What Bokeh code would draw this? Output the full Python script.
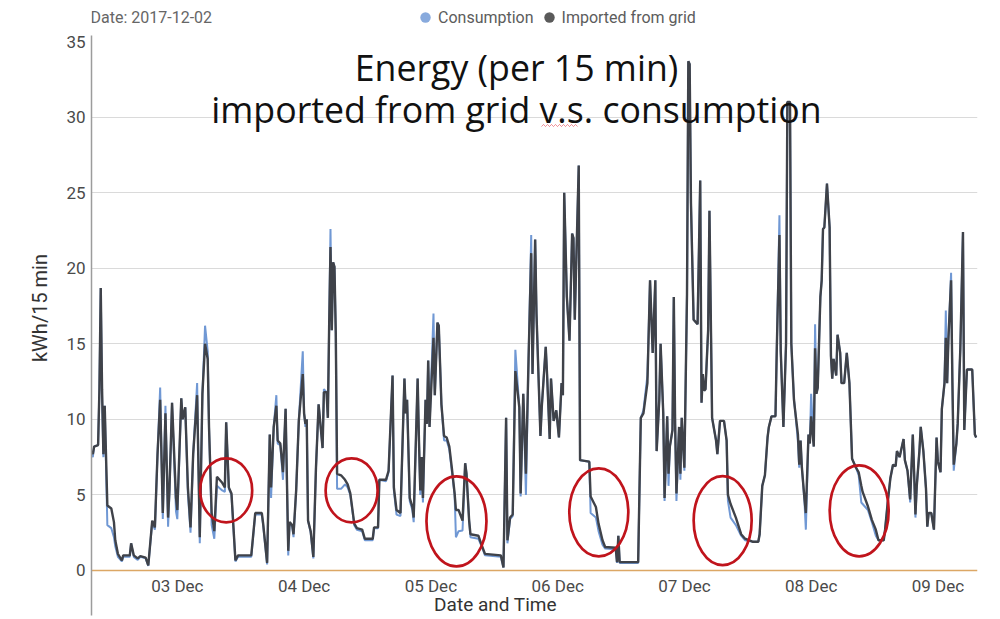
import pandas as pd
from bokeh.plotting import figure
from bokeh.models import (Range1d, FixedTicker, DatetimeAxis, DatetimeTickFormatter,
                          Label, Legend, LegendItem, Title, PolyAnnotation)
from bokeh.embed import file_html
from bokeh.resources import INLINE

# ---------------- data (hours since 2017-12-02 00:00, kWh per 15 min) ----------------
START = "2017-12-02"
hours = [7.75, 8.0, 8.25, 9.0, 9.25, 9.5, 9.75, 10.0, 10.25, 10.75, 11.5, 12.0, 12.25, 12.75,
         13.5, 13.75, 15.0, 15.25, 15.75, 16.5, 17.0, 18.0, 18.5, 19.25, 19.75, 20.25, 20.75,
         21.25, 21.75, 22.25, 22.5, 23.0, 23.75, 24.0, 24.75, 25.0, 25.5, 26.0, 26.5, 27.0,
         27.75, 28.25, 28.75, 29.25, 29.75, 30.0, 30.5, 31.0, 31.5, 32.5, 33.0, 33.25, 33.75,
         34.25, 35.0, 35.5, 38.0, 38.75, 40.0, 40.25, 41.0, 41.5, 41.75, 42.25, 42.75, 43.0,
         43.5, 44.0, 44.5, 45.0, 45.25, 45.75, 46.0, 46.5, 47.0, 47.75, 48.0, 48.25, 48.5,
         48.75, 49.25, 49.75, 50.25, 50.75, 51.5, 51.75, 52.25, 52.5, 52.75, 53.0, 53.25,
         53.5, 53.75, 54.0, 54.25, 55.0, 55.75, 56.25, 56.75, 57.5, 58.0, 59.0, 59.5, 61.0,
         61.25, 62.0, 62.25, 63.5, 64.0, 64.75, 65.0, 65.5, 66.25, 67.0, 67.25, 67.5, 68.0,
         68.5, 68.75, 69.5, 69.75, 70.0, 70.25, 70.5, 71.0, 71.25, 71.5, 71.75, 72.5, 72.75,
         73.25, 73.5, 74.0, 74.5, 75.0, 75.5, 76.0, 76.5, 76.75, 77.25, 78.0, 78.5, 78.75,
         79.25, 79.5, 81.0, 81.75, 82.25, 85.25, 85.75, 86.25, 86.5, 87.0, 87.5, 88.0, 88.75,
         89.0, 89.5, 90.0, 90.5, 91.0, 91.25, 91.75, 92.0, 92.75, 93.0, 93.75, 94.0, 94.5,
         94.75, 95.25, 95.75, 96.25, 96.75, 97.0, 97.25, 97.75, 98.25, 98.75, 99.0, 99.25,
         100.0, 100.25, 102.0, 102.25, 103.25, 103.75, 104.5, 105.0, 107.0, 107.25, 107.5,
         107.75, 111.25, 111.75, 112.25, 113.0, 113.5, 114.0, 114.5, 114.75, 115.25, 115.5,
         116.0, 116.25, 116.75, 117.0, 117.25, 117.75, 118.0, 118.25, 118.5, 119.0, 119.25,
         119.5, 120.0, 120.5, 120.75, 121.0, 121.25, 121.75, 122.5, 123.0, 123.25, 123.5,
         123.75, 124.0, 124.5, 124.75, 125.25, 126.0, 126.25, 126.75, 127.5, 128.0, 128.25,
         128.75, 129.75, 130.75, 131.5, 133.0, 134.0, 134.25, 134.75, 135.25, 135.75, 136.0,
         136.5, 137.25, 137.5, 138.0, 138.25, 138.75, 139.25, 139.5, 140.0, 140.25, 140.75,
         141.0, 141.5, 141.75, 142.0, 142.25, 142.75, 143.0, 143.5, 143.75, 144.0, 144.5,
         144.75, 145.0, 145.25, 145.75, 146.0, 146.25, 146.5, 147.0, 147.5, 147.75, 148.0,
         148.25, 148.75, 149.0, 149.5, 149.75, 150.25, 150.75, 151.25, 151.75, 152.5, 153.0,
         153.5, 153.75, 154.75, 155.5, 156.25, 156.75, 157.75, 158.0, 158.5, 159.0, 159.5,
         160.0, 160.25, 160.75, 161.0, 161.5, 161.75, 162.25, 162.75, 163.25, 163.5, 163.75,
         164.0, 164.5, 164.75, 165.25, 165.75, 166.0, 166.25, 166.75, 167.25, 167.75, 168.0,
         168.5, 168.75, 169.25, 169.5, 169.75, 170.0, 170.5, 170.75, 171.0, 171.5, 171.75,
         172.25, 172.75, 173.0, 173.5, 174.5, 175.0, 175.25]

imported = [7.9, 7.7, 8.2, 8.3, 12.0, 18.7, 12.0, 7.7, 10.9, 4.3, 4.1, 3.2, 2.0, 1.1,
            0.66, 1.0, 1.0, 1.8, 1.0, 0.8, 0.95, 0.85, 0.33, 3.3, 2.85, 7.7, 11.3,
            3.8, 10.4, 3.5, 5.3, 11.1, 4.8, 4.0, 11.4, 10.0, 10.8, 5.5, 2.85, 7.7,
            11.6, 2.2, 11.7, 15.0, 14.0, 9.5, 3.8, 2.6, 6.2, 5.8, 5.5, 9.8, 5.5,
            5.1, 0.66, 1.0, 1.0, 3.8, 3.8, 3.1, 0.5, 9.0, 5.5, 9.5, 10.9, 8.6,
            8.4, 6.5, 10.7, 1.3, 3.2, 3.0, 2.4, 5.3, 9.9, 13.0, 10.4, 9.7, 10.0,
            3.3, 2.6, 0.9, 6.8, 11.0, 8.1, 11.8, 11.8, 10.1, 16.3, 21.4, 15.9,
            20.4, 20.1, 15.7, 6.4, 6.3, 6.0, 5.7, 5.1, 3.1, 2.8, 2.7, 2.1, 2.1,
            2.85, 2.85, 6.0, 6.0, 6.6, 12.9, 5.5, 4.0, 3.8, 12.7, 10.4, 11.3, 4.8,
            4.2, 3.5, 12.7, 8.6, 5.3, 7.5, 4.8, 11.3, 9.7, 13.9, 9.5, 15.4, 11.6,
            16.4, 16.2, 11.0, 8.9, 8.8, 8.2, 6.7, 5.1, 4.0, 4.0, 3.3, 7.1, 6.4,
            3.3, 2.4, 2.3, 1.55, 1.1, 1.0, 0.2, 10.1, 2.0, 3.5, 3.7, 13.2, 10.8,
            5.1, 11.7, 6.4, 14.0, 21.0, 13.0, 21.9, 17.0, 8.9, 10.8, 14.8, 13.0, 8.7,
            12.7, 9.9, 10.6, 8.8, 12.4, 11.6, 25.0, 18.1, 15.2, 22.3, 22.0, 16.6,
            26.8, 7.3, 7.2, 4.9, 4.2, 3.1, 2.0, 1.55, 1.5, 0.55, 2.3,
            0.55, 0.55, 10.1, 10.4, 12.4, 19.2, 14.4, 19.2, 7.9, 11.3, 15.0,
            10.4, 4.8, 10.2, 6.4, 8.2, 9.3, 18.1, 9.7, 5.1, 9.5, 6.4,
            10.1, 6.8, 18.3, 33.7, 33.5, 24.3, 16.6, 16.3, 25.8, 11.1, 13.0,
            11.9, 12.0, 15.9, 23.8, 10.1, 8.6, 7.7, 9.9, 9.9, 8.6, 5.0,
            4.4, 3.5, 2.4, 2.1, 1.9, 1.9, 2.4, 5.6, 6.3, 8.8, 9.5,
            10.2, 10.2, 14.7, 22.2, 14.5, 9.5, 15.0, 31.0, 31.0, 15.0, 11.3,
            10.5, 9.0, 7.0, 8.6, 6.8, 4.7, 3.8, 9.0, 8.4, 10.2, 8.2,
            14.7, 11.7, 12.1, 18.1, 19.2, 22.6, 22.7, 25.6, 22.7, 14.2, 12.7,
            14.0, 12.9, 15.6, 14.4, 12.4, 12.4, 14.4, 12.4, 7.4, 6.8, 6.5,
            5.6, 5.2, 4.25, 3.35, 2.7, 2.0, 2.0, 2.7, 4.5, 6.1, 7.0,
            6.9, 7.9, 7.5, 7.9, 8.7, 7.3, 6.6, 4.7, 9.0, 6.5, 3.7,
            5.6, 7.9, 9.5, 7.9, 5.4, 2.9, 3.8, 3.8, 2.7, 8.8, 7.2,
            6.5, 10.7, 12.4, 15.4, 12.4, 15.4, 19.2, 12.4, 7.0, 8.4, 9.7,
            14.7, 22.4, 9.3, 13.3, 13.3, 9.0, 8.8]

consumption = [7.7, 7.5, 8.2, 8.3, 12.0, 18.7, 11.5, 7.5, 10.9, 3.0, 2.8, 2.2, 1.6, 0.9,
               0.6, 0.9, 0.9, 1.8, 0.9, 0.7, 0.9, 0.8, 0.3, 3.2, 2.7, 7.7, 12.1,
               3.4, 10.9, 2.9, 5.0, 11.1, 3.9, 3.4, 11.4, 10.0, 10.8, 5.1, 2.5, 7.7,
               12.4, 1.8, 11.7, 16.2, 14.5, 9.5, 3.0, 2.1, 5.6, 5.3, 5.2, 9.8, 5.4,
               5.0, 0.6, 0.9, 0.9, 3.7, 3.7, 3.0, 0.4, 9.0, 4.8, 9.5, 11.6, 8.4,
               8.3, 6.0, 10.7, 1.0, 3.1, 2.9, 2.2, 5.3, 9.9, 14.5, 10.4, 9.5, 10.0,
               3.3, 2.5, 0.8, 6.8, 11.0, 8.1, 12.0, 11.8, 10.1, 16.3, 22.6, 15.9,
               20.4, 20.1, 15.7, 5.4, 5.4, 5.7, 5.5, 5.0, 3.0, 2.7, 2.6, 2.0, 2.0,
               2.8, 2.8, 6.0, 5.9, 6.5, 12.9, 5.3, 3.7, 3.6, 12.7, 10.4, 11.3, 4.6,
               4.0, 3.2, 12.7, 8.6, 5.0, 7.5, 4.5, 11.3, 9.7, 13.9, 9.5, 17.0, 11.6,
               16.4, 16.2, 11.0, 8.6, 8.6, 8.0, 6.5, 5.0, 2.2, 2.6, 2.65, 7.1, 6.4,
               3.3, 2.2, 2.1, 1.5, 1.0, 0.9, 0.2, 10.1, 1.8, 3.4, 3.6, 14.6, 10.8,
               4.9, 11.7, 5.0, 14.0, 22.2, 13.0, 21.9, 17.0, 8.9, 10.8, 14.8, 13.0, 8.7,
               12.7, 9.9, 10.6, 8.8, 12.4, 11.6, 25.0, 18.1, 15.2, 22.3, 22.0, 16.6,
               26.8, 7.3, 7.2, 3.8, 3.5, 2.6, 1.7, 1.45, 1.4, 0.5, 2.3,
               0.5, 0.5, 10.1, 10.6, 12.9, 19.2, 14.4, 19.2, 7.9, 11.3, 15.0,
               10.4, 4.6, 10.2, 5.6, 8.2, 9.3, 18.1, 9.7, 4.6, 9.5, 6.0,
               10.1, 6.6, 18.3, 33.7, 33.5, 24.3, 16.6, 16.3, 25.8, 11.1, 13.0,
               11.9, 12.0, 15.9, 23.8, 10.1, 8.6, 7.7, 9.9, 9.9, 8.6, 4.6,
               3.5, 3.0, 2.3, 2.0, 1.9, 1.9, 2.4, 5.6, 6.3, 8.8, 9.5,
               10.2, 10.2, 14.7, 23.5, 14.5, 9.5, 15.0, 31.0, 31.0, 15.0, 11.3,
               10.5, 8.5, 6.8, 8.6, 6.8, 4.5, 2.7, 9.0, 8.4, 11.7, 8.2,
               16.3, 11.7, 12.1, 18.1, 19.2, 22.6, 22.7, 25.6, 22.7, 14.2, 12.7,
               14.0, 12.9, 15.6, 14.4, 12.4, 12.4, 14.4, 12.4, 7.4, 6.8, 6.3,
               4.5, 4.4, 4.0, 3.2, 2.3, 2.0, 2.0, 2.7, 4.5, 6.1, 7.0,
               6.9, 7.9, 7.5, 7.9, 8.7, 7.3, 6.6, 4.5, 9.0, 6.5, 3.5,
               5.6, 7.9, 9.5, 7.9, 5.4, 2.9, 3.8, 3.8, 2.7, 8.8, 7.2,
               6.5, 10.7, 12.4, 17.2, 12.4, 15.4, 19.7, 12.4, 6.6, 8.4, 9.7,
               14.7, 22.4, 9.3, 13.3, 13.3, 9.0, 8.8]

day_ticks = ["2017-12-03", "2017-12-04", "2017-12-05", "2017-12-06",
             "2017-12-07", "2017-12-08", "2017-12-09"]
y_ticks = [0, 5, 10, 15, 20, 25, 30, 35]
grid_ticks = [5, 10, 15, 20, 25, 30]

# highlighted periods (centre time in hours, centre kWh)
circle_hours = [33.25, 57.0, 76.85, 103.8, 127.25, 153.1]
circle_kwh = [5.3, 5.3, 3.25, 3.85, 3.3, 3.95]

series_names = ["Consumption", "Imported from grid"]
title_lines = ["Energy (per 15 min)", "imported from grid v.s. consumption"]

# ---------------- build ----------------
t0 = pd.Timestamp(START)
times = t0 + pd.to_timedelta(hours, unit="h")
circle_t = t0 + pd.to_timedelta(circle_hours, unit="h")
tick_ms = [pd.Timestamp(d).value / 1e6 for d in day_ticks]

Y_MIN, Y_TOP, Y_MAX = -2.98, 35.4, 37.72

p = figure(width=995, height=619, x_axis_type=None, output_backend="svg",
           toolbar_location=None,
           x_range=Range1d(t0 + pd.Timedelta(hours=7.75), t0 + pd.Timedelta(hours=175.5)),
           y_range=Range1d(Y_MIN, Y_MAX),
           min_border_left=91, min_border_right=18, min_border_top=0, min_border_bottom=4)
p.outline_line_color = None
p.background_fill_color = "white"
p.border_fill_color = "white"

# y axis
yax = p.yaxis[0]
yax.ticker = FixedTicker(ticks=y_ticks)
yax.bounds = (Y_MIN, Y_TOP)
yax.axis_line_color = "#9c9c9c"
yax.axis_line_width = 1.5
yax.major_tick_line_color = None
yax.minor_tick_line_color = None
yax.major_label_text_font = "Roboto"
yax.major_label_text_font_size = "17px"
yax.major_label_text_color = "#4a4a4a"
yax.major_label_standoff = 0
p.ygrid.ticker = FixedTicker(ticks=grid_ticks)
p.ygrid.grid_line_color = "#dadada"

p.add_layout(Title(text="kWh/15 min", align="center", text_font="Roboto",
                   text_font_size="20px", text_font_style="normal", text_color="#333333",
                   standoff=24), "left")

# x axis drawn along y = 0
xax = DatetimeAxis(fixed_location=0, ticker=FixedTicker(ticks=tick_ms),
                   formatter=DatetimeTickFormatter(days="%d %b", months="%d %b", hours="%d %b",
                                                   years="%d %b", context=None))
xax.axis_line_color = "#dca765"
xax.axis_line_width = 1.5
xax.major_tick_line_color = None
xax.minor_tick_line_color = None
xax.major_label_text_font = "Roboto"
xax.major_label_text_font_size = "17px"
xax.major_label_text_color = "#4a4a4a"
xax.major_label_standoff = 0
p.add_layout(xax, "below")

# lines
r_cons = p.line(times, consumption, line_color="#7098d4", line_width=2)
r_imp = p.line(times, imported, line_color="#3f4249", line_width=2.4)

# zero-size markers: only used to show round dots in the legend
d_cons = p.scatter(x=times, y=consumption, size=0, marker="circle",
                   fill_color="#88aadd", line_color=None)
d_imp = p.scatter(x=times, y=imported, size=0, marker="circle",
                  fill_color="#5a5a5a", line_color=None)
legend = Legend(items=[LegendItem(label=series_names[0], renderers=[d_cons]),
                       LegendItem(label=series_names[1], renderers=[d_imp])],
                orientation="horizontal", location=(321, 585),
                glyph_width=26, glyph_height=26, label_standoff=-1, spacing=2,
                padding=0, margin=0, border_line_color=None, background_fill_alpha=0,
                label_text_font="Roboto", label_text_font_size="16px",
                label_text_color="#5c5c5c", label_height=20)
p.add_layout(legend)

# red ellipses
p.ellipse(x=circle_t, y=circle_kwh, width=[52, 52, 60, 59, 58, 59],
          height=[64, 64, 90, 88, 89, 91], width_units="screen", height_units="screen",
          fill_color=None, line_color="#c0141c", line_width=2.7)

# header and titles
p.add_layout(Label(x=-1, y=598, x_units="screen", y_units="screen", text="Date: 2017-12-02",
                   text_font="Roboto", text_font_size="16px", text_color="#666666",
                   text_baseline="middle", text_align="left"))
p.add_layout(Label(x=425, y=549, x_units="screen", y_units="screen", text=title_lines[0],
                   text_font="Open Sans", text_font_size="35.7px", text_color="#111111",
                   text_align="center", text_baseline="middle"))
p.add_layout(Label(x=425, y=507, x_units="screen", y_units="screen", text=title_lines[1],
                   text_font="Open Sans", text_font_size="35.7px", text_color="#111111",
                   text_align="center", text_baseline="middle"))
p.add_layout(Label(x=404, y=11, x_units="screen", y_units="screen", text="Date and Time",
                   text_font="Roboto", text_font_size="19px", text_color="#333333",
                   text_align="center", text_baseline="middle"))

# spell-check squiggle under "v.s." in the title (as in the reference screenshot)
sq_x = [450 + 2 * i for i in range(19)]
sq_y = [489 + (i % 2) * 2 for i in range(19)]
p.add_layout(PolyAnnotation(xs=sq_x + sq_x[::-1], ys=sq_y + sq_y[::-1],
                            xs_units="screen", ys_units="screen",
                            fill_alpha=0, line_color="#e0303a", line_width=1))

open("out.html", "w").write(file_html(p, INLINE))
